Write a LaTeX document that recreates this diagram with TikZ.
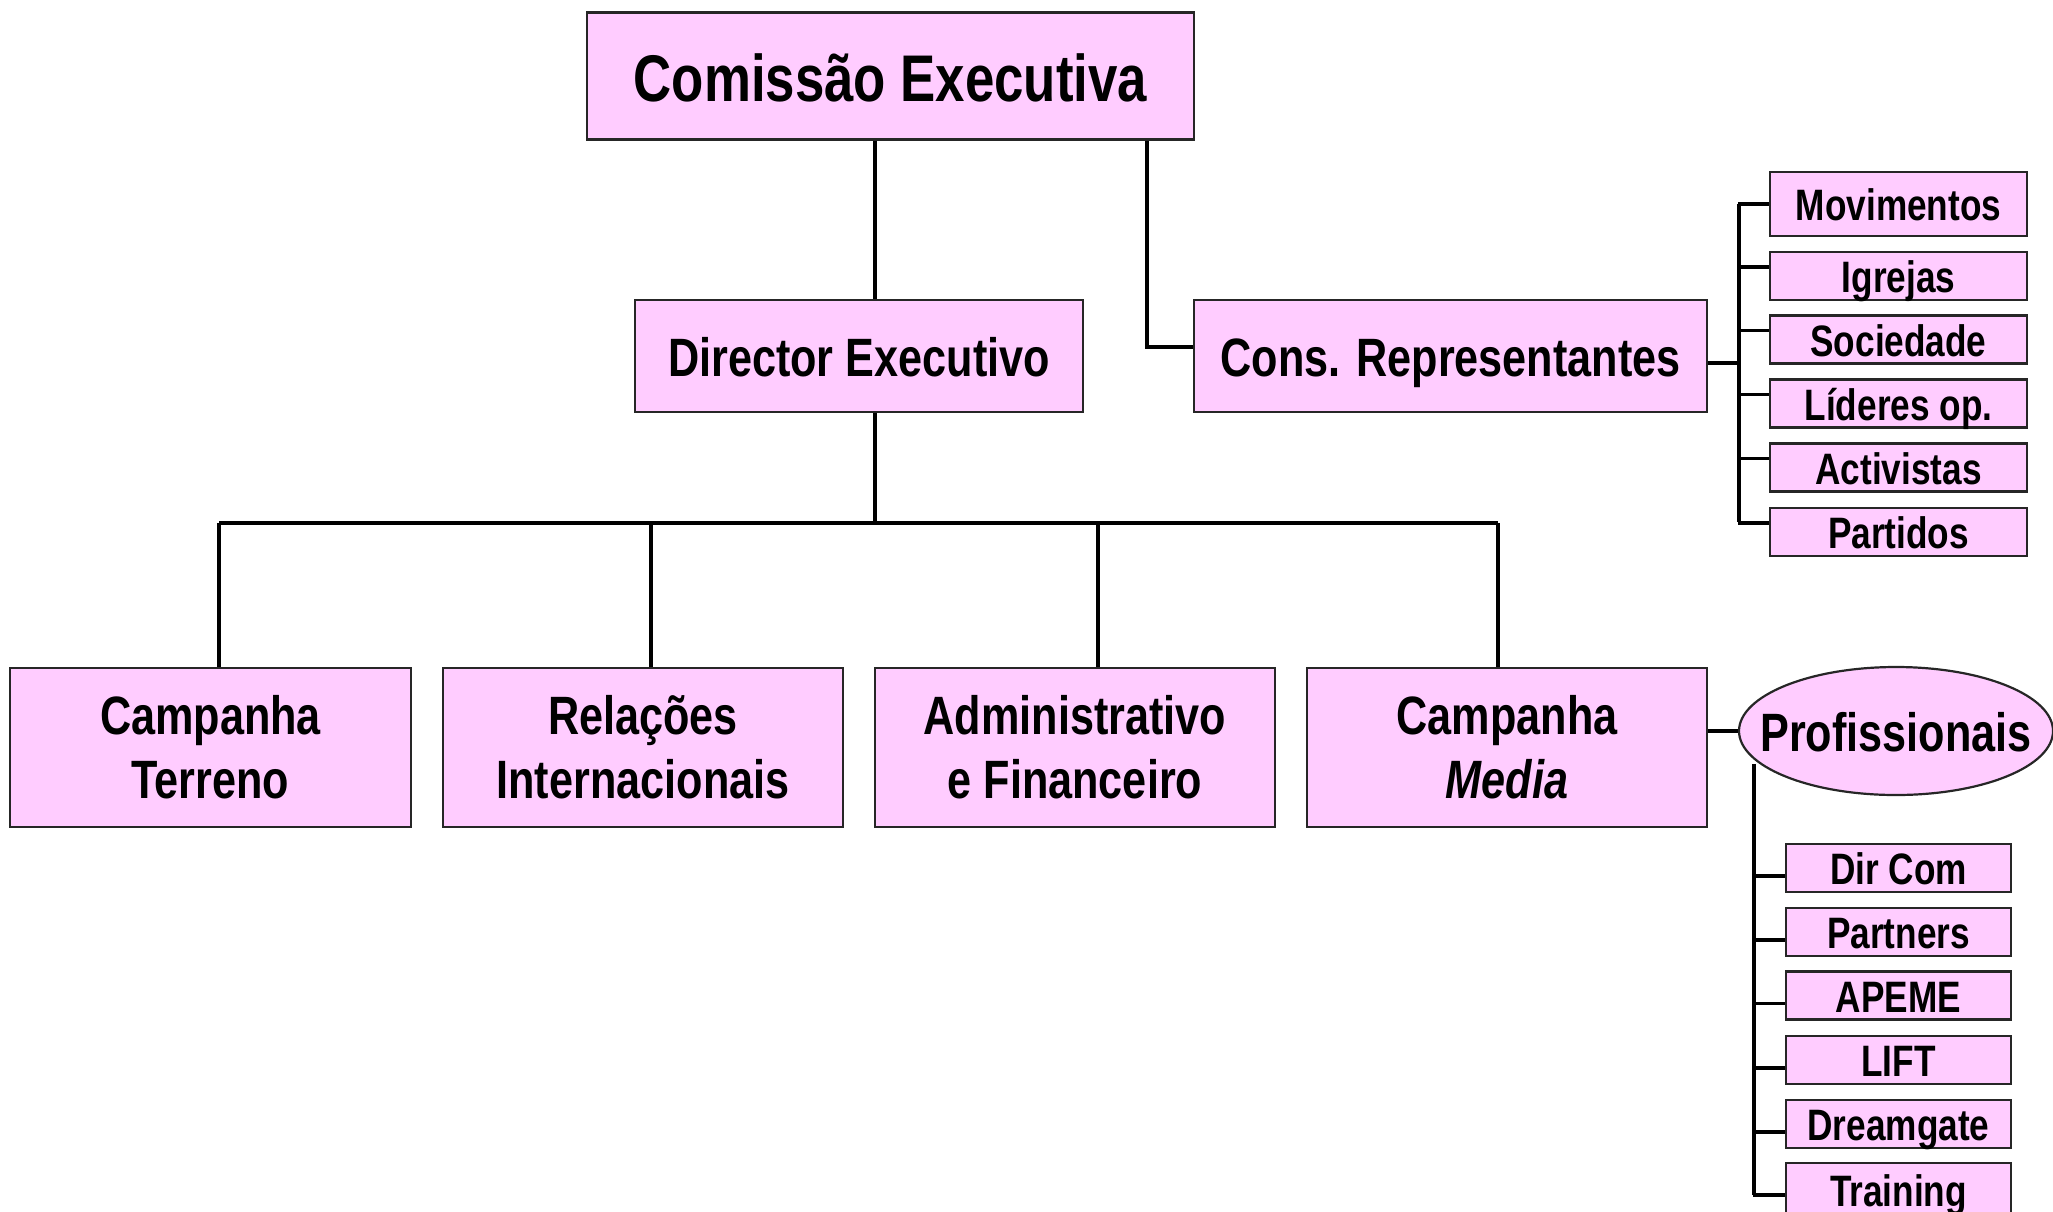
\documentclass[tikz,border=0pt]{standalone}
\usepackage{fontspec}
\setmainfont{Liberation Sans}[FakeStretch=0.8]
\usetikzlibrary{shapes.geometric}
\definecolor{boxpink}{HTML}{FFCCFF}
\begin{document}
\begin{tikzpicture}[x=1pt,y=-1pt,
  box/.style={draw=black!85, line width=2.2pt, fill=boxpink, inner sep=0pt, align=center},
  bigbox/.style={box, font=\fontsize{66}{72}\selectfont\bfseries, text height=51pt, text depth=0pt},
  midbox/.style={box, font=\fontsize{54}{64}\selectfont\bfseries},
  midone/.style={midbox, text height=41pt, text depth=0pt},
  smallbox/.style={box, font=\fontsize{44}{50}\selectfont\bfseries, text height=33.5pt, text depth=0pt},
  conn/.style={line width=3.4pt, black}]
\useasboundingbox (0,0) rectangle (2053,1211);

% main boxes
\node[bigbox, minimum width=607pt, minimum height=127pt] (com) at (890.5,76) {Comissão Executiva};
\node[midone, minimum width=448pt, minimum height=112pt] (dir) at (859,356) {Director Executivo};
\node[midone, minimum width=513pt, minimum height=112pt] (cons) at (1450.5,356) {Cons. Representantes};

\node[midbox, minimum width=401pt, minimum height=159pt] (terreno) at (210.5,747.5) {Campanha\\Terreno};
\node[midbox, minimum width=400pt, minimum height=159pt] (rel) at (643,747.5) {Relações\\Internacionais};
\node[midbox, minimum width=400pt, minimum height=159pt] (adm) at (1075,747.5) {Administrativo\\e Financeiro};
\node[midbox, minimum width=400pt, minimum height=159pt] (media) at (1507,747.5) {Campanha\\{\itshape Media}};

\node[midone, ellipse, inner xsep=-26pt, inner ysep=0pt, minimum width=314pt, minimum height=128pt] (prof) at (1896,731) {Profissionais};

% cons sub-boxes
\node[smallbox, minimum width=257pt, minimum height=64pt] (mov) at (1898.5,204) {Movimentos};
\node[smallbox, minimum width=257pt, minimum height=48pt] (igr) at (1898.5,276) {Igrejas};
\node[smallbox, minimum width=257pt, minimum height=48pt] (soc) at (1898.5,339.5) {Sociedade};
\node[smallbox, minimum width=257pt, minimum height=48pt] (lid) at (1898.5,403.5) {Líderes op.};
\node[smallbox, minimum width=257pt, minimum height=48pt] (act) at (1898.5,467.5) {Activistas};
\node[smallbox, minimum width=257pt, minimum height=48pt] (par) at (1898.5,532) {Partidos};

% prof sub-boxes
\node[smallbox, minimum width=225pt, minimum height=48pt] (dircom) at (1898.5,868) {Dir Com};
\node[smallbox, minimum width=225pt, minimum height=48pt] (partn) at (1898.5,932) {Partners};
\node[smallbox, minimum width=225pt, minimum height=48pt] (apeme) at (1898.5,995.5) {APEME};
\node[smallbox, minimum width=225pt, minimum height=48pt] (lift) at (1898.5,1060) {LIFT};
\node[smallbox, minimum width=225pt, minimum height=48pt] (dream) at (1898.5,1124) {Dreamgate};
\node[smallbox, minimum width=225pt, minimum height=54pt] (train) at (1898.5,1190) {Training};

% helper coordinates
\coordinate (trunk) at (875,0);
\coordinate (rb) at (1147,0);
\coordinate (busL) at (219,523);
\coordinate (busR) at (1498,523);
\coordinate (d2) at (651,523);
\coordinate (d3) at (1098,523);
\coordinate (cbar) at (1739,0);
\coordinate (ptop) at (1754,764);

% connectors
\draw[conn] (trunk |- com.south) -- (trunk |- dir.north);
\draw[conn] (trunk |- dir.south) -- (trunk |- busL);
\draw[conn] (busL) -- (busR);
\draw[conn] (busL) -- (busL |- terreno.north);
\draw[conn] (d2) -- (d2 |- rel.north);
\draw[conn] (d3) -- (d3 |- adm.north);
\draw[conn] (busR) -- (busR |- media.north);
\draw[conn] (rb |- com.south) |- ([yshift=9pt]cons.west);

\draw[conn] ([yshift=-7pt]cons.east) -- +(32,0);
\draw[conn] (cbar |- mov.west) -- (cbar |- par.north);
\draw[conn] (cbar |- par.north) -- ++(0,15);
\draw[conn] (mov.west) -- +(-31,0);
\draw[conn] ([yshift=9pt]igr.west) -- +(-31,0);
\draw[conn] ([yshift=9pt]soc.west) -- +(-31,0);
\draw[conn] ([yshift=9pt]lid.west) -- +(-31,0);
\draw[conn] ([yshift=9pt]act.west) -- +(-31,0);
\draw[conn] ([yshift=9pt]par.west) -- +(-31,0);

\draw[conn] (prof.west) -- (prof.west -| media.east);
\draw[conn] (ptop) -- (ptop |- train.west);
\draw[conn] (ptop |- train.west) -- ++(0,5);
\draw[conn] ([yshift=-8pt]dircom.west) -- +(-32,0);
\draw[conn] ([yshift=-8pt]partn.west) -- +(-32,0);
\draw[conn] ([yshift=-8pt]apeme.west) -- +(-32,0);
\draw[conn] ([yshift=-8pt]lift.west) -- +(-32,0);
\draw[conn] ([yshift=-8pt]dream.west) -- +(-32,0);
\draw[conn] ([yshift=-5pt]train.west) -- +(-32,0);
\end{tikzpicture}
\end{document}
